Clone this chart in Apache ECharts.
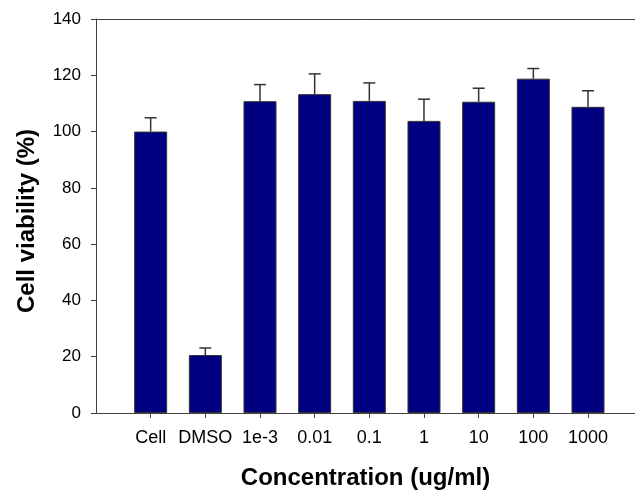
<!DOCTYPE html>
<html>
<head>
<meta charset="utf-8">
<script src="https://cdn.jsdelivr.net/npm/echarts@6/dist/echarts.min.js"></script>
<style>
html,body{margin:0;padding:0;background:#fff;overflow:hidden;}
#chart{width:635px;height:490px;}
</style>
</head>
<body>
<div id="chart"></div>
<script>
const categories = ['Cell', 'DMSO', '1e-3', '0.01', '0.1', '1', '10', '100', '1000'];
const viability = [100.0, 20.6, 110.8, 113.3, 110.9, 103.8, 110.6, 118.8, 108.8];
const errors = [4.9, 2.5, 5.9, 7.2, 6.4, 7.7, 4.8, 3.6, 5.7];
const yTicks = [0, 20, 40, 60, 80, 100, 120, 140];

// categories sit at positions 1..9; the original frame runs past the right picture edge
const positions = categories.map((c, i) => i + 1);
const barData = categories.map((c, i) => [positions[i], viability[i]]);
const errData = categories.map((c, i) => [positions[i], viability[i], errors[i]]);

const FONT = 'Liberation Sans, Arial, sans-serif';
const AX = '#404040';
const chart = echarts.init(document.getElementById('chart'));
chart.setOption({
  animation: false,
  backgroundColor: '#fff',
  grid: { left: 96, right: 0, top: 19, bottom: 77, containLabel: false, outerBoundsMode: 'none' },
  xAxis: [{
    type: 'value',
    min: 0,
    max: 9.86,
    interval: 1,
    name: 'Concentration (ug/ml)',
    nameLocation: 'middle',
    nameGap: 53,
    nameTextStyle: { fontFamily: FONT, fontSize: 24, fontWeight: 'bold', color: '#000' },
    axisLine: { show: true, onZero: false, lineStyle: { color: AX, width: 1 } },
    axisTick: { show: true, length: 5, inside: false, customValues: positions, lineStyle: { color: AX } },
    axisLabel: { margin: 16, fontFamily: FONT, fontSize: 18, color: '#000', customValues: positions,
      hideOverlap: false,
      formatter: v => categories[Math.round(v) - 1] || '' },
    splitLine: { show: false }
  }, {
    type: 'value',
    min: 0,
    max: 9.86,
    position: 'top',
    axisLine: { show: true, onZero: false, lineStyle: { color: AX, width: 1 } },
    axisTick: { show: false },
    axisLabel: { show: false },
    splitLine: { show: false }
  }],
  yAxis: {
    type: 'value',
    min: 0,
    max: 140,
    interval: 20,
    name: 'Cell viability (%)',
    nameLocation: 'middle',
    nameGap: 57,
    nameTextStyle: { fontFamily: FONT, fontSize: 24, fontWeight: 'bold', color: '#000', padding: [0, 10, 0, 0] },
    axisLine: { show: true, onZero: false, lineStyle: { color: AX, width: 1 } },
    axisTick: { show: true, length: 5, inside: false, lineStyle: { color: AX } },
    axisLabel: { margin: 15, fontFamily: FONT, fontSize: 17, color: '#000',
      formatter: v => yTicks.indexOf(v) >= 0 ? String(v) : '' },
    splitLine: { show: false }
  },
  series: [{
    type: 'bar',
    data: barData,
    barWidth: 33,
    itemStyle: { color: '#000080', borderColor: '#333', borderWidth: 1 },
    z: 2
  }, {
    type: 'custom',
    data: errData,
    z: 3,
    renderItem: function (params, api) {
      const x = api.value(0);
      const base = api.coord([x, api.value(1)]);
      const top = api.coord([x, api.value(1) + api.value(2)]);
      const cap = 6;
      const st = { stroke: '#333', lineWidth: 1.5 };
      return { type: 'group', children: [
        { type: 'line', shape: { x1: base[0], y1: base[1], x2: top[0], y2: top[1] }, style: st },
        { type: 'line', shape: { x1: top[0] - cap, y1: top[1], x2: top[0] + cap, y2: top[1] }, style: st }
      ] };
    }
  }]
});
</script>
</body>
</html>
